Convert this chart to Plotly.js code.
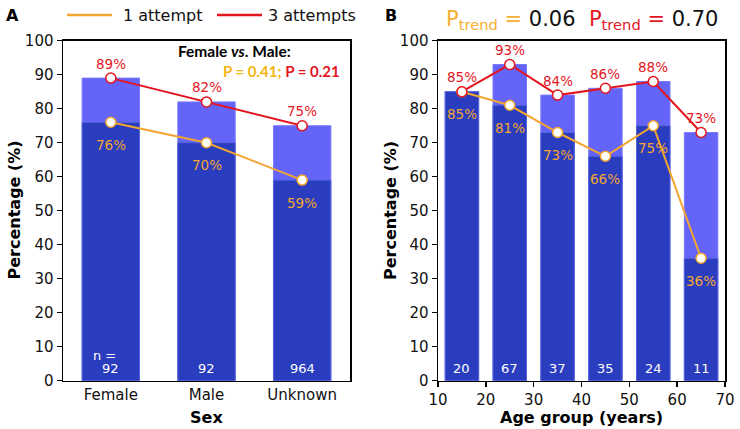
<!DOCTYPE html>
<html><head><meta charset="utf-8">
<script src="https://cdn.plot.ly/plotly-3.0.1.min.js"></script>
<style>html,body{margin:0;padding:0;background:#fff}#c{width:740px;height:429px}</style>
</head><body><div id="c"></div>
<script>
// Panel A data
const sexCats = ['Female', 'Male', 'Unknown'];
const sexOne = [76, 70, 59];
const sexThree = [89, 82, 75];
const sexN = [92, 92, 964];
// Panel B data
const ageMid = [15, 25, 35, 45, 55, 65];
const ageOne = [85, 81, 73, 66, 75, 36];
const ageThree = [85, 93, 84, 86, 88, 73];
const ageN = [20, 67, 37, 35, 24, 11];
const yTicks = [0,10,20,30,40,50,60,70,80,90,100];
const xTicksB = [10,20,30,40,50,60,70];

const W = 740, H = 429;
const px = x => x / W, py = y => 1 - y / H;
const DARK = '#2a3dbf', LIGHT = '#6464f9', ORANGE = '#f2a530', RED = '#e3161f';
const FONT = 'DejaVu Sans';

function barPair(x, three, one, xa, ya, wid) {
  return [
    {type:'bar', x:x, y:three, width:wid, xaxis:xa, yaxis:ya,
     marker:{color:LIGHT, line:{color:'#7a7aff', width:1}}, showlegend:false, hoverinfo:'skip'},
    {type:'bar', x:x, y:one, width:wid, xaxis:xa, yaxis:ya,
     marker:{color:DARK, line:{color:'#5566dd', width:1}}, showlegend:false, hoverinfo:'skip'}
  ];
}
function lineTrace(x, y, color, xa, ya) {
  return {type:'scatter', mode:'lines+markers', x:x, y:y, xaxis:xa, yaxis:ya,
    line:{color:color, width:2}, marker:{size:10, color:'#fff', line:{color:color, width:1.5}},
    showlegend:false, hoverinfo:'skip', cliponaxis:false};
}

const data = [
  ...barPair(sexCats, sexThree, sexOne, 'x', 'y', 0.6),
  ...barPair(ageMid, ageThree, ageOne, 'x2', 'y2', 7),
  lineTrace(sexCats, sexOne, ORANGE, 'x', 'y'),
  lineTrace(sexCats, sexThree, RED, 'x', 'y'),
  lineTrace(ageMid, ageOne, ORANGE, 'x2', 'y2'),
  lineTrace(ageMid, ageThree, RED, 'x2', 'y2')
];

const annotations = [];
function label(xr, yr, x, y, text, color, size, shift) {
  annotations.push({xref:xr, yref:yr, x:x, y:y, text:text, showarrow:false, xanchor:'center', yanchor:'middle',
    yshift:shift || 0, font:{family:FONT, size:size, color:color}});
}
sexCats.forEach((c, i) => {
  label('x', 'y', c, sexThree[i], sexThree[i] + '%', RED, 13.5, 14.5);
  label('x', 'y', c, sexOne[i], sexOne[i] + '%', ORANGE, 13.5, -22.5);
  label('x', 'y', c, 3.5, String(sexN[i]), '#fff', 13, 0);
});
annotations.push({xref:'x', yref:'y', x:'Female', y:7.5, xshift:-6, text:'n =', showarrow:false,
  xanchor:'center', yanchor:'middle', font:{family:FONT, size:13, color:'#fff'}});
ageMid.forEach((m, i) => {
  label('x2', 'y2', m, ageThree[i], ageThree[i] + '%', RED, 13.5, 14.5);
  label('x2', 'y2', m, ageOne[i], ageOne[i] + '%', ORANGE, 13.5, -22.5);
  label('x2', 'y2', m, 3.5, String(ageN[i]), '#fff', 13, 0);
});
function paperText(x, y, text, size, opts) {
  annotations.push(Object.assign({xref:'paper', yref:'paper', x:px(x), y:py(y), text:text, showarrow:false,
    xanchor:'center', yanchor:'middle', font:{family:FONT, size:size, color:'#111'}}, opts || {}));
}
paperText(235, 51.5, '<b>Female <i>vs</i>. Male:</b>', 15, {font:{family:'Lato', size:15.5, color:'#000'}});
paperText(342, 71, '<b><span style="color:#f5b514">P = 0.41;</span> <span style="color:#e3161f">P = 0.21</span></b>', 15,
  {xanchor:'right', font:{family:'Lato', size:15, color:'#000'}});
paperText(12, 15, '<b>A</b>', 16, {font:{family:FONT, size:16, color:'#000'}});
paperText(391, 15, '<b>B</b>', 16, {font:{family:FONT, size:16, color:'#000'}});
paperText(121, 15, '1 attempt', 16, {xanchor:'left'});
paperText(266, 15, '3 attempts', 16, {xanchor:'left'});
paperText(582, 20, '<span style="color:#f5b030">P<sub>trend</sub> =</span> 0.06  <span style="color:#e3161f">P<sub>trend</sub> =</span> 0.70', 21);
paperText(13.5, 210, '<b>Percentage (%)</b>', 16, {textangle:-90, font:{family:FONT, size:16, color:'#000'}});
paperText(390, 210, '<b>Percentage (%)</b>', 16, {textangle:-90, font:{family:FONT, size:16, color:'#000'}});
paperText(206.5, 417, '<b>Sex</b>', 16, {font:{family:FONT, size:16, color:'#000'}});
paperText(581, 417, '<b>Age group (years)</b>', 16, {font:{family:FONT, size:16, color:'#000'}});

const shapes = [
  {type:'line', xref:'paper', yref:'paper', x0:px(67), x1:px(112), y0:py(15), y1:py(15), line:{color:ORANGE, width:2.5}},
  {type:'line', xref:'paper', yref:'paper', x0:px(217), x1:px(262), y0:py(15), y1:py(15), line:{color:RED, width:2.5}}
];

const yDom = [py(380.7), py(40.7)];
const axBase = {showline:true, mirror:true, linecolor:'#000', linewidth:1.5, zeroline:false, automargin:false,
  showgrid:false, ticks:'outside', ticklen:5, tickwidth:1.5, tickcolor:'#000',
  tickfont:{family:FONT, size:15, color:'#111'}};

const layout = {
  width:W, height:H, margin:{l:0, r:0, t:0, b:0}, paper_bgcolor:'#fff', plot_bgcolor:'#fff',
  barmode:'overlay', bargap:0, showlegend:false,
  xaxis:Object.assign({}, axBase, {domain:[px(63), px(350)], type:'category', range:[-0.5, 2.5], ticks:''}),
  yaxis:Object.assign({}, axBase, {domain:yDom, range:[0, 100], tickvals:yTicks, anchor:'x'}),
  xaxis2:Object.assign({}, axBase, {domain:[px(438), px(725)], range:[10, 70], tickvals:xTicksB, anchor:'y2'}),
  yaxis2:Object.assign({}, axBase, {domain:yDom, range:[0, 100], tickvals:yTicks, anchor:'x2'}),
  annotations:annotations, shapes:shapes
};
Plotly.newPlot('c', data, layout, {staticPlot:true});
</script></body></html>
